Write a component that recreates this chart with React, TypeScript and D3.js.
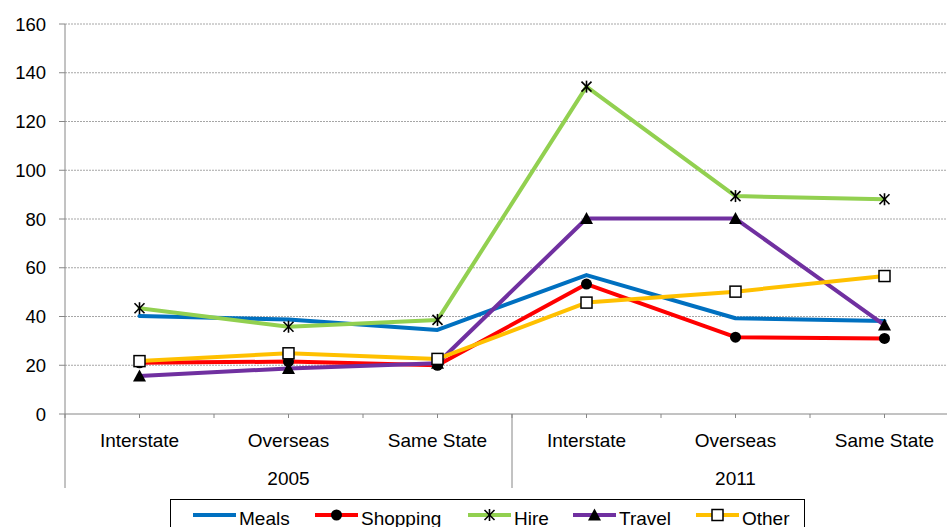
import React from "react";
import * as d3 from "d3";

// Category axis: two years, each split into three trip types
const years = ["2005", "2011"];
const tripTypes = ["Interstate", "Overseas", "Same State"];
const yTicks = [0, 20, 40, 60, 80, 100, 120, 140, 160];

// Series values, one per (year, trip type) in axis order
const seriesNames = ["Meals", "Shopping", "Hire", "Travel", "Other"];
const mealsValues = [40.2, 38.8, 34.5, 57.0, 39.3, 38.2];
const shoppingValues = [21.0, 21.5, 20.0, 53.3, 31.5, 31.0];
const hireValues = [43.4, 35.8, 38.6, 134.3, 89.4, 88.1];
const travelValues = [15.6, 18.7, 20.8, 80.2, 80.2, 36.5];
const otherValues = [21.7, 24.9, 22.6, 45.7, 50.2, 56.6];

const seriesColors = ["#0070C0", "#FF0000", "#92D050", "#7030A0", "#FFC000"];
const seriesMarkers = ["none", "circle", "star", "triangle", "square"];

const W = 947;
const H = 527;
const FONT = "'Liberation Sans', Arial, sans-serif";

type MarkerKind = string;

function Marker({ kind, x, y }: { kind: MarkerKind; x: number; y: number }) {
  if (kind === "circle") {
    return <circle cx={x} cy={y} r={5.5} fill="#000" />;
  }
  if (kind === "triangle") {
    return (
      <path
        d={`M${x},${y - 6.5} L${x + 6.5},${y + 5.5} L${x - 6.5},${y + 5.5} Z`}
        fill="#000"
      />
    );
  }
  if (kind === "square") {
    return (
      <rect
        x={x - 5.5}
        y={y - 5.5}
        width={11}
        height={11}
        fill="#fff"
        stroke="#000"
        strokeWidth={1.5}
      />
    );
  }
  if (kind === "star") {
    const s = 5;
    return (
      <g stroke="#000" strokeWidth={1.6}>
        <line x1={x - s} y1={y - s} x2={x + s} y2={y + s} />
        <line x1={x - s} y1={y + s} x2={x + s} y2={y - s} />
        <line x1={x} y1={y - s - 1} x2={x} y2={y + s + 1} />
      </g>
    );
  }
  return null;
}

export default function App() {
  const allValues = [mealsValues, shoppingValues, hireValues, travelValues, otherValues];
  const categories = years.flatMap((yr) => tripTypes.map((t) => `${yr}|${t}`));

  const plotLeft = 65;
  const plotRight = 959;
  const plotTop = 24;
  const plotBottom = 414;

  const x = d3.scaleBand<string>().domain(categories).range([plotLeft, plotRight]).padding(0);
  const y = d3.scaleLinear().domain([0, 160]).range([plotBottom, plotTop]);
  const cx = (c: string) => (x(c) as number) + x.bandwidth() / 2;

  const line = d3
    .line<number>()
    .x((_, i) => cx(categories[i]))
    .y((v) => y(v));

  const groupWidth = x.bandwidth() * tripTypes.length;
  const axisColor = "#868686";

  // Tick marks every half category along the x axis
  const halfTicks = d3.range(categories.length * 2 + 1).map((i) => plotLeft + (i * x.bandwidth()) / 2);

  const legendX = [193, 315, 468, 573, 696];
  const legendLineLen = 43;
  const legendY = 515;

  return (
    <svg
      width={W}
      height={H}
      style={{ position: "absolute", left: 0, top: 0, background: "#fff" }}
      fontFamily={FONT}
    >
      <rect x={0} y={0} width={W} height={H} fill="#fff" />

      {/* gridlines */}
      {yTicks
        .filter((t) => t > 0)
        .map((t) => (
          <line
            key={`g${t}`}
            x1={plotLeft}
            x2={W}
            y1={y(t)}
            y2={y(t)}
            stroke="#a6a6a6"
            strokeWidth={1}
            strokeDasharray="2,1"
          />
        ))}

      {/* y axis */}
      <line x1={plotLeft} x2={plotLeft} y1={plotTop} y2={488} stroke={axisColor} strokeWidth={1} />
      {yTicks.map((t) => (
        <g key={`yt${t}`}>
          <line x1={plotLeft - 6} x2={plotLeft} y1={y(t)} y2={y(t)} stroke={axisColor} />
          <text
            x={46}
            y={y(t)}
            textAnchor="end"
            dominantBaseline="central"
            fontSize={18.5}
            fill="#000"
          >
            {t}
          </text>
        </g>
      ))}

      {/* x axis */}
      <line x1={plotLeft} x2={W} y1={plotBottom} y2={plotBottom} stroke={axisColor} strokeWidth={1} />
      {halfTicks.map((tx, i) => (
        <line key={`xt${i}`} x1={tx} x2={tx} y1={plotBottom} y2={plotBottom + 4} stroke={axisColor} />
      ))}
      {years.map((yr, gi) => {
        const gx = plotLeft + gi * groupWidth;
        return (
          <g key={yr}>
            {gi > 0 && (
              <line x1={gx} x2={gx} y1={plotBottom} y2={488} stroke={axisColor} strokeWidth={1} />
            )}
            <text x={gx + groupWidth / 2} y={484.5} textAnchor="middle" fontSize={19} fill="#000">
              {yr}
            </text>
          </g>
        );
      })}
      {categories.map((c) => (
        <text key={`cl${c}`} x={cx(c)} y={446.7} textAnchor="middle" fontSize={19} fill="#000">
          {c.split("|")[1]}
        </text>
      ))}

      {/* series */}
      {allValues.map((vals, si) => (
        <g key={seriesNames[si]}>
          <path
            d={line(vals) || ""}
            fill="none"
            stroke={seriesColors[si]}
            strokeWidth={4}
            strokeLinejoin="round"
            strokeLinecap="round"
          />
          {vals.map((v, i) => (
            <Marker key={i} kind={seriesMarkers[si]} x={cx(categories[i])} y={y(v)} />
          ))}
        </g>
      ))}

      {/* legend */}
      <rect x={170.5} y={499.5} width={634} height={40} fill="#fff" stroke="#000" strokeWidth={1} />
      {seriesNames.map((name, si) => {
        const lx = legendX[si];
        return (
          <g key={`lg${name}`}>
            <line
              x1={lx}
              x2={lx + legendLineLen}
              y1={legendY}
              y2={legendY}
              stroke={seriesColors[si]}
              strokeWidth={4}
            />
            <Marker kind={seriesMarkers[si]} x={lx + legendLineLen / 2} y={legendY} />
            <text x={lx + legendLineLen + 3} y={525} fontSize={19} fill="#000">
              {name}
            </text>
          </g>
        );
      })}
    </svg>
  );
}
